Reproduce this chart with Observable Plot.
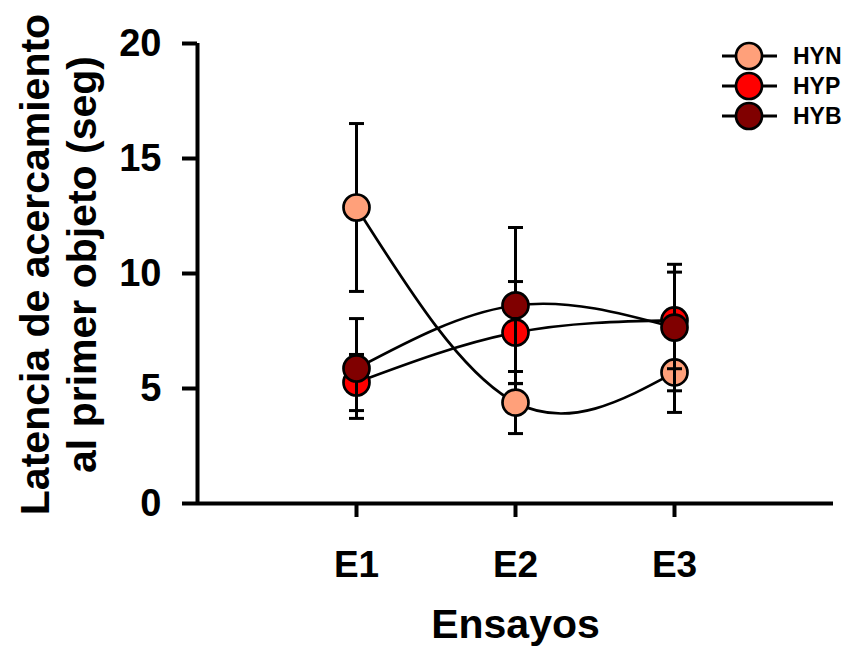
<!DOCTYPE html>
<html>
<head>
<meta charset="utf-8">
<script src="https://cdn.jsdelivr.net/npm/d3@7"></script>
<script src="https://cdn.jsdelivr.net/npm/@observablehq/plot@0.6"></script>
<style>
  html, body { margin: 0; padding: 0; background: #fff; }
  #chart { position: relative; width: 845px; height: 647px; }
</style>
</head>
<body>
<div id="chart"></div>
<script>
// ---- data ----
const ensayos = ["E1", "E2", "E3"];
const groups = ["HYN", "HYP", "HYB"];
const colors = ["#FFA07A", "#FF0000", "#800000"];
const HYN_mean = [12.87, 4.39, 5.70];
const HYN_err  = [3.65, 1.35, 1.74];
const HYP_mean = [5.26, 7.43, 7.96];
const HYP_err  = [1.22, 2.22, 2.10];
const HYB_mean = [5.87, 8.61, 7.65];
const HYB_err  = [2.17, 3.39, 2.75];
const yTicks = [0, 5, 10, 15, 20];
const xLabel = "Ensayos";
const yLabel = "Latencia de acercamiento\nal primer objeto (seg)";

const means = {HYN: HYN_mean, HYP: HYP_mean, HYB: HYB_mean};
const errs = {HYN: HYN_err, HYP: HYP_err, HYB: HYB_err};
const rows = groups.flatMap(g => ensayos.map((e, i) => ({
  group: g, ensayo: e, x: i + 1, mean: means[g][i], err: errs[g][i],
  lo: means[g][i] - errs[g][i], hi: means[g][i] + errs[g][i]
})));

const capSymbol = {
  draw(context) { const w = 7.5; context.moveTo(-w, 0); context.lineTo(w, 0); }
};

const font = "'Liberation Sans', Arial, Helvetica, sans-serif";

const seriesMarks = groups.flatMap(g => {
  const d = rows.filter(r => r.group === g);
  return [
    Plot.ruleX(d, {x: "x", y1: "lo", y2: "hi", stroke: "black", strokeWidth: 3}),
    Plot.dot(d, {x: "x", y: "lo", symbol: capSymbol, fill: "none", stroke: "black", strokeWidth: 3}),
    Plot.dot(d, {x: "x", y: "hi", symbol: capSymbol, fill: "none", stroke: "black", strokeWidth: 3}),
    Plot.dot(d, {x: "x", y: "mean", r: 13, fill: "group", stroke: "black", strokeWidth: 2.7})
  ];
});

const plot = Plot.plot({
  width: 845,
  height: 647,
  marginLeft: 197,
  marginRight: 12,
  marginTop: 43,
  marginBottom: 144,
  style: {fontFamily: font, fontWeight: "bold", color: "black", background: "white"},
  x: {domain: [0, 4], axis: null},
  y: {domain: [0, 20], axis: null},
  color: {domain: groups, range: colors},
  marks: [
    Plot.axisY({ticks: yTicks, tickSize: 15, tickPadding: 21, fontSize: 38, strokeWidth: 4, label: null, tickFormat: d => String(d)}),
    Plot.axisX({ticks: [1, 2, 3], tickFormat: d => ensayos[d - 1], tickSize: 14, tickPadding: 33, fontSize: 37, strokeWidth: 4, label: null}),
    Plot.ruleX([0], {stroke: "black", strokeWidth: 4, y1: 0, y2: 20}),
    Plot.ruleY([0], {stroke: "black", strokeWidth: 4}),
    Plot.line(rows, {x: "x", y: "mean", z: "group", curve: "natural", stroke: "black", strokeWidth: 2.7}),
    ...seriesMarks,
    Plot.text([xLabel], {frameAnchor: "bottom", dy: 105, lineAnchor: "top", fontSize: 41, fontWeight: "bold", fill: "black"}),
    Plot.text([yLabel], {frameAnchor: "left", dx: -140, dy: -9, rotate: -90, textAnchor: "middle", lineAnchor: "middle", lineHeight: 1.15, fontSize: 41, fontWeight: "bold", fill: "black"})
  ]
});

document.getElementById("chart").appendChild(plot);

// ---- legend (top right) ----
const svg = d3.select(plot);
const leg = svg.append("g").attr("font-family", font).attr("font-weight", "bold").attr("text-anchor", "start");
groups.forEach((g, i) => {
  const cy = 56 + i * 30;
  const row = leg.append("g");
  row.append("line").attr("x1", 722).attr("x2", 777).attr("y1", cy).attr("y2", cy)
    .attr("stroke", "black").attr("stroke-width", 2.8);
  row.append("circle").attr("cx", 749).attr("cy", cy).attr("r", 13)
    .attr("fill", colors[i]).attr("stroke", "black").attr("stroke-width", 2.7);
  row.append("text").attr("x", 793).attr("y", cy).attr("dy", "0.36em")
    .attr("text-anchor", "start")
    .attr("font-size", 23).attr("fill", "black").text(g);
});
</script>
</body>
</html>
